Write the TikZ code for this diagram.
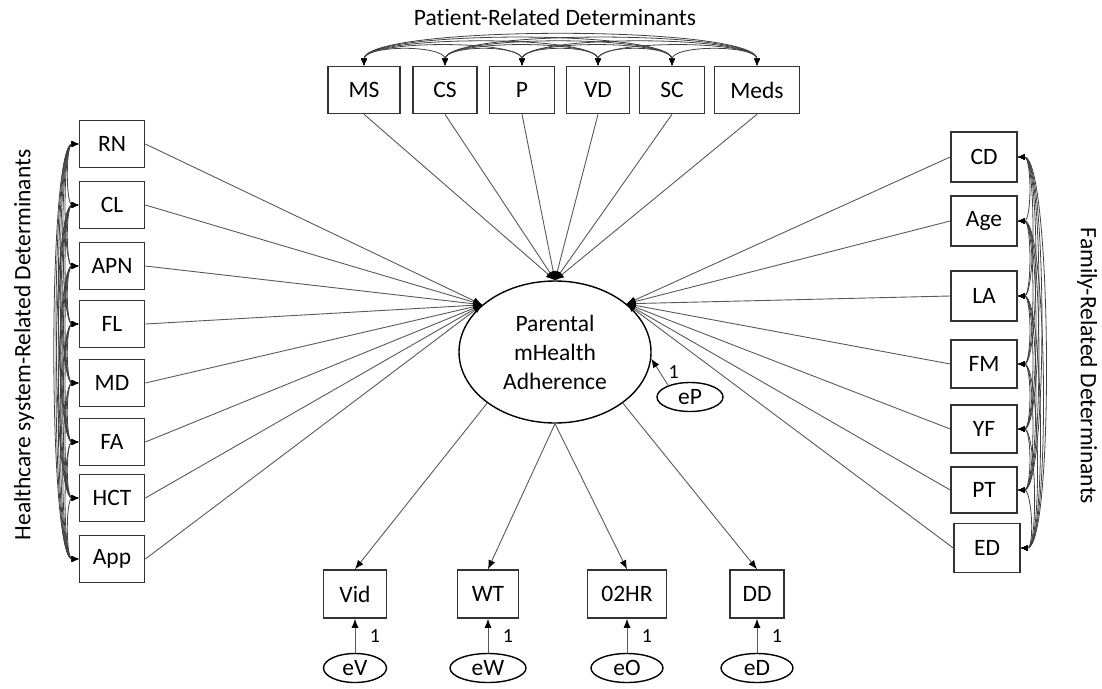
\documentclass[tikz,border=0pt]{standalone}
\usepackage{fontspec}
\setmainfont{Carlito}[Ligatures=NoCommon]
\usetikzlibrary{arrows.meta,shapes.geometric,positioning}

\begin{document}
\begin{tikzpicture}[
    x=1pt, y=-1pt,
    font=\fontsize{23.5}{29}\selectfont,
    obs/.style={rectangle, draw=black!80, line width=1.6pt, minimum height=47pt, inner sep=0pt},
    latent/.style={ellipse, draw, line width=1.4pt, minimum width=192pt, minimum height=142pt, align=center, inner sep=0pt},
    err/.style={ellipse, draw, line width=1.4pt, minimum height=29pt, inner sep=0pt},
    reg/.style={draw=black!65, line width=0.9pt, -{Latex[length=9pt,width=7pt,color=black]}},
    cov/.style={draw=black!75, line width=0.8pt, {Latex[length=7pt,width=6pt,color=black]}-{Latex[length=7pt,width=6pt,color=black]}},
    one/.style={font=\fontsize{20}{24}\selectfont}
  ]
    \useasboundingbox (0,0) rectangle (1102,688);

    % Latent variable
    \node[latent] (adh) at (555,352) {Parental\\mHealth\\Adherence};
    \node[err, minimum width=66pt] (eP) at (690,397) {eP};

    % Patient-related determinants
    \node (ptitle) at (555,17) {Patient-Related Determinants};
    \node[obs, minimum width=72pt] (MS) at (364,90) {MS};
    \node[obs, minimum width=64pt] (CS) at (445,90) {CS};
    \node[obs, minimum width=65pt] (P) at (522,90) {P};
    \node[obs, minimum width=63pt] (VD) at (598,90) {VD};
    \node[obs, minimum width=65pt] (SC) at (672,90) {SC};
    \node[obs, minimum width=85pt] (Meds) at (757,90) {Meds};

    % Healthcare system-related determinants
    \node[rotate=90] (htitle) at (24,345) {Healthcare system-Related Determinants};
    \node[obs, minimum width=65pt] (RN) at (112,144) {RN};
    \node[obs, minimum width=65pt] (CL) at (112,205) {CL};
    \node[obs, minimum width=65pt] (APN) at (112,266) {APN};
    \node[obs, minimum width=65pt] (FL) at (112,324) {FL};
    \node[obs, minimum width=65pt] (MD) at (112,383) {MD};
    \node[obs, minimum width=65pt] (FA) at (112,442) {FA};
    \node[obs, minimum width=65pt] (HCT) at (112,498) {HCT};
    \node[obs, minimum width=65pt] (App) at (112,559) {App};

    % Family-related determinants
    \node[rotate=-90] (ftitle) at (1087,366) {Family-Related Determinants};
    \node[obs, minimum width=66pt, minimum height=50pt] (CD) at (984,157) {CD};
    \node[obs, minimum width=66pt, minimum height=50pt] (Age) at (984,221) {Age};
    \node[obs, minimum width=66pt, minimum height=50pt] (LA) at (984,296) {LA};
    \node[obs, minimum width=66pt, minimum height=48pt] (FM) at (984,364) {FM};
    \node[obs, minimum width=66pt, minimum height=48pt] (YF) at (984,429) {YF};
    \node[obs, minimum width=66pt, minimum height=46pt] (PT) at (984,490) {PT};
    \node[obs, minimum width=66pt, minimum height=49pt] (ED) at (987,548) {ED};

    % Outcome indicators
    \node[obs, minimum width=63pt, minimum height=48pt] (Vid) at (355,594) {Vid};
    \node[obs, minimum width=61pt, minimum height=48pt] (WT) at (488,594) {WT};
    \node[obs, minimum width=79pt, minimum height=48pt] (OHR) at (627,594) {02HR};
    \node[obs, minimum width=54pt, minimum height=48pt] (DD) at (757,594) {DD};
    \node[err, minimum width=63pt] (eV) at (355,668) {eV};
    \node[err, minimum width=76pt] (eW) at (488,668) {eW};
    \node[err, minimum width=72pt] (eO) at (627,668) {eO};
    \node[err, minimum width=72pt] (eD) at (757,668) {eD};

    % Paths into the latent variable
    \foreach \n in {MS,CS,P,VD,SC,Meds}
      \draw[reg] (\n.south) -- (adh.north);
    \foreach \n in {RN,CL,APN,FL,MD,FA,HCT,App}
      \draw[reg] (\n.east) -- (adh.147);
    \foreach \n in {CD,Age,LA,FM,YF,PT,ED}
      \draw[reg] (\n.west) -- (adh.34);

    % Paths out of the latent variable
    \draw[reg] (adh.217) -- (Vid.north);
    \draw[reg] (adh.south) -- (WT.north);
    \draw[reg] (adh.south) -- (OHR.north);
    \draw[reg] (adh.323) -- (DD.north);

    % Error terms
    \draw[reg] (eP.152) -- node[right=5pt, one] {1} (adh.-4);
    \foreach \e/\o in {eV/Vid,eW/WT,eO/OHR,eD/DD}
      \draw[reg] (\e.north) -- node[right=11pt, one] {1} (\o.south);

    % Covariances
    \foreach \a/\i in {MS/1,CS/2,P/3,VD/4,SC/5,Meds/6}
      \foreach \b/\j in {MS/1,CS/2,P/3,VD/4,SC/5,Meds/6}
        {\ifnum\j>\i
           \pgfmathsetmacro\dd{16+5*(\j-\i)}
           \draw[cov] (\a.north) to[out=90, in=90, distance=\dd pt] (\b.north);
         \fi}
    \foreach \a/\i in {RN/1,CL/2,APN/3,FL/4,MD/5,FA/6,HCT/7,App/8}
      \foreach \b/\j in {RN/1,CL/2,APN/3,FL/4,MD/5,FA/6,HCT/7,App/8}
        {\ifnum\j>\i
           \pgfmathsetmacro\dd{10+3*(\j-\i)}
           \draw[cov] (\a.west) to[out=180, in=180, distance=\dd pt] (\b.west);
         \fi}
    \foreach \a/\i in {CD/1,Age/2,LA/3,FM/4,YF/5,PT/6,ED/7}
      \foreach \b/\j in {CD/1,Age/2,LA/3,FM/4,YF/5,PT/6,ED/7}
        {\ifnum\j>\i
           \pgfmathsetmacro\dd{10+4*(\j-\i)}
           \draw[cov] (\a.east) to[out=0, in=0, distance=\dd pt] (\b.east);
         \fi}
\end{tikzpicture}
\end{document}
